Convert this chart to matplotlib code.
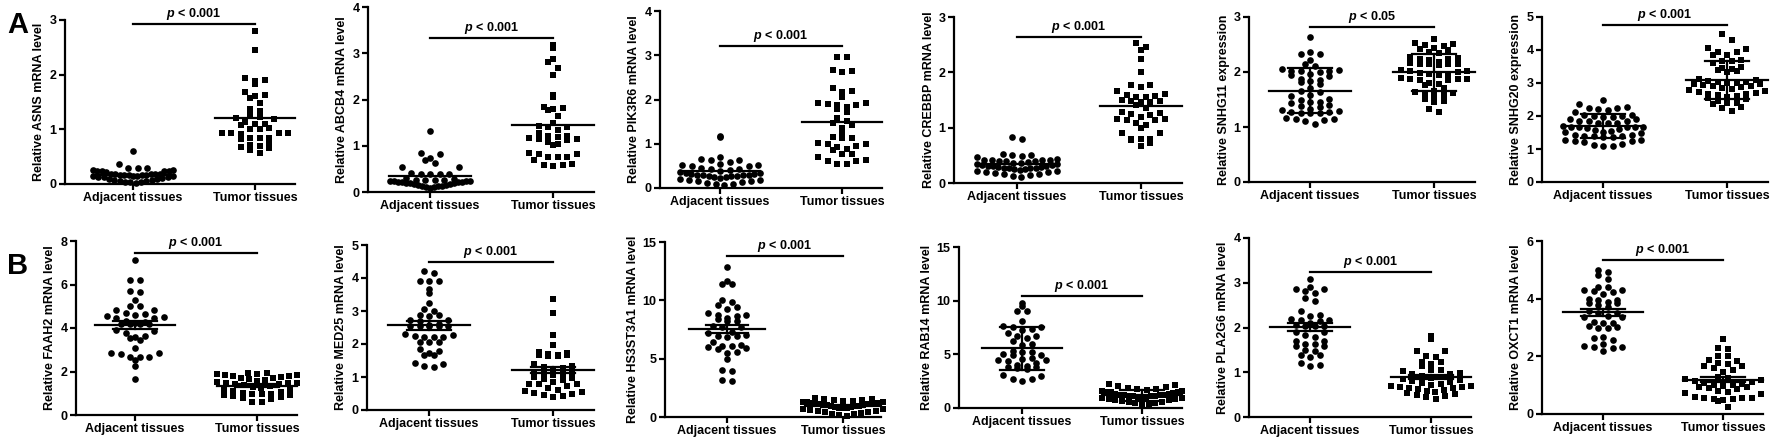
import numpy as np
import matplotlib
matplotlib.use('Agg')
import matplotlib.pyplot as plt

plt.rcParams['font.family'] = ['Liberation Sans', 'DejaVu Sans']
plt.rcParams['font.weight'] = 'bold'
plt.rcParams['mathtext.fontset'] = 'custom'
plt.rcParams['mathtext.it'] = 'Liberation Sans:italic:bold'
plt.rcParams['mathtext.rm'] = 'Liberation Sans:bold'
plt.rcParams['mathtext.bf'] = 'Liberation Sans:bold'

categories = ['Adjacent tissues', 'Tumor tissues']

# ---------------- data ----------------
asns_adjacent = [0.61, 0.37, 0.30, 0.29, 0.29, 0.26, 0.26, 0.24, 0.23, 0.23, 0.23, 0.22, 0.19, 0.19,
                 0.18, 0.18, 0.18, 0.17, 0.17, 0.17, 0.16, 0.16, 0.15, 0.15, 0.14, 0.14, 0.13, 0.12,
                 0.12, 0.11, 0.10, 0.09, 0.08, 0.07, 0.06, 0.05, 0.04, 0.03, 0.03, 0.02]
asns_tumor = [2.80, 2.46, 1.93, 1.90, 1.88, 1.83, 1.69, 1.62, 1.61, 1.57, 1.49, 1.37, 1.34, 1.27,
              1.23, 1.20, 1.19, 1.14, 1.09, 1.08, 1.03, 1.01, 1.01, 1.10, 0.93, 0.93, 0.91, 0.93,
              0.93, 0.85, 0.84, 0.85, 0.82, 0.77, 0.70, 0.66, 0.63, 0.68, 0.71, 0.57]

abcb4_adjacent = [1.32, 0.84, 0.83, 0.73, 0.69, 0.63, 0.54, 0.54, 0.42, 0.40, 0.40, 0.40, 0.40, 0.30,
                  0.28, 0.27, 0.26, 0.25, 0.25, 0.24, 0.24, 0.23, 0.23, 0.22, 0.22, 0.21, 0.21, 0.20,
                  0.20, 0.19, 0.18, 0.17, 0.16, 0.15, 0.14, 0.13, 0.12, 0.11, 0.10, 0.09]
abcb4_tumor = [3.18, 3.12, 2.87, 2.81, 2.69, 2.54, 2.10, 2.05, 1.84, 1.79, 1.77, 1.81, 1.64, 1.50,
               1.42, 1.41, 1.40, 1.34, 1.28, 1.21, 1.19, 1.21, 1.16, 1.15, 1.14, 1.12, 1.08, 1.03,
               1.01, 0.85, 0.83, 0.82, 0.76, 0.76, 0.76, 0.70, 0.60, 0.59, 0.58, 0.56]

pik3r6_adjacent = [1.18, 1.15, 0.70, 0.65, 0.64, 0.63, 0.59, 0.55, 0.53, 0.51, 0.50, 0.49, 0.45, 0.44,
                   0.42, 0.40, 0.38, 0.36, 0.35, 0.33, 0.32, 0.31, 0.30, 0.30, 0.30, 0.29, 0.28, 0.27,
                   0.26, 0.25, 0.24, 0.22, 0.20, 0.19, 0.18, 0.16, 0.15, 0.13, 0.12, 0.10, 0.08, 0.06]
pik3r6_tumor = [2.97, 2.97, 2.66, 2.63, 2.64, 2.25, 2.16, 2.20, 2.05, 1.91, 1.87, 1.83, 1.89, 1.92,
                1.79, 1.71, 1.87, 1.58, 1.46, 1.43, 1.52, 1.36, 1.15, 1.14, 1.14, 1.21, 1.02, 1.00,
                0.93, 0.94, 0.89, 1.00, 0.85, 0.76, 0.64, 0.60, 0.55, 0.55, 0.60, 0.70, 0.76]

crebbp_adjacent = [0.83, 0.79, 0.53, 0.51, 0.50, 0.48, 0.47, 0.43, 0.42, 0.42, 0.41, 0.41, 0.40, 0.40,
                   0.39, 0.38, 0.37, 0.36, 0.35, 0.34, 0.33, 0.32, 0.31, 0.30, 0.30, 0.29, 0.29, 0.28,
                   0.28, 0.27, 0.27, 0.26, 0.25, 0.24, 0.22, 0.21, 0.20, 0.19, 0.18, 0.17, 0.16, 0.14,
                   0.12, 0.10]
crebbp_tumor = [2.53, 2.45, 2.41, 2.24, 2.00, 1.77, 1.73, 1.77, 1.67, 1.61, 1.57, 1.56, 1.56, 1.59,
                1.50, 1.49, 1.47, 1.47, 1.49, 1.41, 1.35, 1.29, 1.24, 1.20, 1.23, 1.26, 1.15, 1.14,
                1.15, 1.13, 1.09, 1.05, 1.00, 0.91, 0.90, 0.80, 0.77, 0.80, 0.80, 0.73, 0.67]

snhg11_adjacent = [2.64, 2.36, 2.32, 2.32, 2.21, 2.14, 2.10, 2.06, 2.03, 2.02, 2.02, 2.01, 2.00, 1.97,
                   1.95, 1.93, 1.88, 1.85, 1.83, 1.81, 1.78, 1.70, 1.66, 1.63, 1.58, 1.56, 1.50, 1.49,
                   1.46, 1.45, 1.43, 1.40, 1.38, 1.36, 1.33, 1.30, 1.29, 1.28, 1.27, 1.26, 1.25, 1.25,
                   1.16, 1.15, 1.15, 1.12, 1.10, 1.06]
snhg11_tumor = [2.60, 2.53, 2.50, 2.49, 2.47, 2.44, 2.41, 2.40, 2.36, 2.34, 2.28, 2.25, 2.24, 2.23,
                2.21, 2.18, 2.16, 2.15, 2.15, 2.15, 2.14, 2.13, 2.03, 2.02, 2.01, 2.00, 1.99, 1.97,
                1.96, 1.94, 1.89, 1.88, 1.87, 1.87, 1.86, 1.85, 1.80, 1.79, 1.77, 1.70, 1.66, 1.64,
                1.62, 1.60, 1.58, 1.56, 1.51, 1.47, 1.45, 1.32, 1.27]

snhg20_adjacent = [2.47, 2.35, 2.27, 2.25, 2.25, 2.22, 2.17, 2.13, 2.02, 2.02, 2.00, 2.00, 1.98, 1.97,
                   1.92, 1.90, 1.86, 1.85, 1.84, 1.80, 1.79, 1.78, 1.69, 1.68, 1.68, 1.67, 1.67, 1.66,
                   1.65, 1.60, 1.58, 1.55, 1.52, 1.50, 1.48, 1.42, 1.41, 1.40, 1.40, 1.38, 1.37, 1.35,
                   1.28, 1.26, 1.25, 1.24, 1.22, 1.15, 1.12, 1.10, 1.08]
snhg20_tumor = [4.47, 4.30, 4.05, 4.03, 3.95, 3.93, 3.86, 3.84, 3.70, 3.66, 3.66, 3.62, 3.47, 3.45,
                3.43, 3.40, 3.35, 3.32, 3.12, 3.10, 3.05, 3.04, 3.02, 3.00, 3.00, 2.98, 2.97, 2.95,
                2.92, 2.90, 2.88, 2.85, 2.82, 2.78, 2.75, 2.72, 2.70, 2.68, 2.68, 2.65, 2.62, 2.58,
                2.55, 2.50, 2.45, 2.40, 2.38, 2.35, 2.28, 2.25, 2.15]

faah2_adjacent = [7.14, 6.19, 6.22, 5.70, 5.66, 5.28, 5.00, 5.00, 4.82, 4.85, 4.66, 4.69, 4.59, 4.51,
                  4.46, 4.48, 4.54, 4.33, 4.28, 4.20, 4.17, 4.17, 4.23, 4.20, 3.87, 3.90, 3.75, 3.62,
                  3.59, 3.52, 3.47, 3.09, 2.86, 2.80, 2.83, 2.68, 2.68, 2.68, 2.55, 2.26, 1.65]
faah2_tumor = [1.95, 1.92, 1.90, 1.88, 1.85, 1.82, 1.80, 1.78, 1.75, 1.72, 1.70, 1.66, 1.62, 1.58,
               1.52, 1.48, 1.46, 1.45, 1.44, 1.42, 1.38, 1.35, 1.30, 1.25, 1.20, 1.15, 1.10, 1.05,
               1.00, 0.98, 0.97, 0.95, 0.92, 0.90, 0.88, 0.85, 0.80, 0.75, 0.62, 0.60]

med25_adjacent = [4.21, 4.16, 3.91, 3.91, 3.92, 3.66, 3.54, 3.25, 3.05, 3.00, 2.88, 2.85, 2.88, 2.73,
                  2.73, 2.70, 2.60, 2.55, 2.55, 2.55, 2.55, 2.55, 2.58, 2.30, 2.24, 2.20, 2.20, 2.27,
                  2.22, 2.05, 2.05, 2.07, 1.80, 1.84, 1.67, 1.67, 1.72, 1.38, 1.34, 1.43, 1.29]
med25_tumor = [3.35, 2.95, 2.27, 1.97, 1.75, 1.73, 1.70, 1.68, 1.67, 1.66, 1.65, 1.64, 1.38, 1.33,
               1.30, 1.28, 1.25, 1.15, 1.12, 1.10, 1.08, 1.05, 1.00, 0.98, 0.95, 0.90, 0.85, 0.80,
               0.80, 0.78, 0.72, 0.66, 0.62, 0.58, 0.55, 0.52, 0.48, 0.45, 0.42, 0.40]

hs3st3a1_adjacent = [12.9, 11.7, 11.4, 11.4, 10.0, 9.9, 9.6, 9.45, 9.3, 8.95, 8.7, 8.75, 8.75, 8.5,
                     8.4, 8.2, 8.2, 7.8, 7.75, 7.7, 7.3, 7.2, 7.0, 6.95, 6.9, 6.95, 6.2, 6.1, 5.95,
                     6.1, 6.0, 6.45, 5.8, 5.6, 5.45, 5.0, 3.95, 4.05, 3.05, 3.15]
hs3st3a1_tumor = [1.62, 1.58, 1.55, 1.50, 1.45, 1.40, 1.35, 1.30, 1.28, 1.25, 1.22, 1.20, 1.18, 1.15,
                  1.12, 1.10, 1.08, 1.05, 1.02, 1.00, 0.98, 0.95, 0.92, 0.90, 0.85, 0.80, 0.78, 0.75,
                  0.70, 0.65, 0.60, 0.55, 0.50, 0.45, 0.40, 0.35, 0.30, 0.25, 0.18, 0.10]

rab14_adjacent = [9.8, 9.5, 9.0, 9.05, 8.1, 7.65, 7.55, 7.55, 7.35, 7.3, 7.0, 6.75, 6.7, 6.5, 6.25,
                  5.9, 5.95, 5.2, 5.05, 5.2, 5.3, 4.9, 4.9, 4.55, 4.5, 4.5, 4.65, 4.35, 4.2, 3.95,
                  4.0, 3.8, 3.75, 3.8, 3.6, 3.05, 2.95, 2.7, 2.7, 2.55]
rab14_tumor = [2.25, 2.15, 2.05, 2.00, 1.90, 1.80, 1.75, 1.70, 1.60, 1.55, 1.50, 1.48, 1.45, 1.40,
               1.35, 1.30, 1.25, 1.22, 1.20, 1.18, 1.15, 1.12, 1.10, 1.08, 1.05, 1.02, 1.00, 0.95,
               0.90, 0.85, 0.80, 0.75, 0.70, 0.65, 0.60, 0.55, 0.50, 0.45, 0.40, 0.30]

pla2g6_adjacent = [3.08, 2.90, 2.85, 2.81, 2.85, 2.77, 2.66, 2.60, 2.36, 2.29, 2.25, 2.18, 2.16, 2.15,
                   2.16, 2.09, 2.06, 2.04, 2.04, 2.04, 1.91, 1.91, 1.79, 1.84, 1.69, 1.69, 1.64, 1.64,
                   1.58, 1.58, 1.47, 1.49, 1.39, 1.39, 1.34, 1.21, 1.15, 1.17]
pla2g6_tumor = [1.82, 1.74, 1.48, 1.48, 1.36, 1.34, 1.24, 1.24, 1.19, 1.13, 1.06, 1.04, 1.02, 0.98,
                0.95, 0.95, 0.92, 0.90, 0.88, 0.85, 0.82, 0.80, 0.78, 0.76, 0.74, 0.72, 0.70, 0.70,
                0.68, 0.66, 0.65, 0.64, 0.62, 0.60, 0.58, 0.56, 0.54, 0.52, 0.50, 0.48, 0.45, 0.40]

oxct1_adjacent = [5.00, 4.93, 4.82, 4.67, 4.39, 4.39, 4.30, 4.30, 4.26, 4.24, 4.16, 3.99, 3.95, 3.95,
                  3.90, 3.86, 3.84, 3.78, 3.70, 3.58, 3.51, 3.51, 3.40, 3.38, 3.38, 3.20, 3.15, 3.17,
                  3.05, 3.03, 2.97, 2.97, 2.68, 2.63, 2.55, 2.36, 2.32, 2.28, 2.34, 2.43, 2.17]
oxct1_tumor = [2.60, 2.30, 2.25, 2.02, 2.02, 1.88, 1.85, 1.76, 1.74, 1.65, 1.65, 1.61, 1.53, 1.47,
               1.30, 1.25, 1.21, 1.19, 1.15, 1.10, 1.07, 1.05, 1.02, 1.00, 0.98, 0.95, 0.92, 0.90,
               0.85, 0.80, 0.76, 0.72, 0.70, 0.60, 0.56, 0.55, 0.55, 0.52, 0.52, 0.50, 0.44, 0.24]

y_labels = ['Relative ASNS mRNA level', 'Relative ABCB4 mRNA level', 'Relative PIK3R6 mRNA level',
            'Relative CREBBP mRNA level', 'Relative SNHG11 expression', 'Relative SNHG20 expression',
            'Relative FAAH2 mRNA level', 'Relative MED25 mRNA level', 'Relative HS3ST3A1 mRNA level',
            'Relative RAB14 mRNA level', 'Relative PLA2G6 mRNA level', 'Relative OXCT1 mRNA level']
y_ticks = [[0, 1, 2, 3], [0, 1, 2, 3, 4], [0, 1, 2, 3, 4], [0, 1, 2, 3], [0, 1, 2, 3],
           [0, 1, 2, 3, 4, 5], [0, 2, 4, 6, 8], [0, 1, 2, 3, 4, 5], [0, 5, 10, 15],
           [0, 5, 10, 15], [0, 1, 2, 3, 4], [0, 2, 4, 6]]
p_labels = ['< 0.001', '< 0.001', '< 0.001', '< 0.001', '< 0.05', '< 0.001',
            '< 0.001', '< 0.001', '< 0.001', '< 0.001', '< 0.001', '< 0.001']
sig_heights = [2.93, 3.33, 3.21, 2.64, 2.81, 4.75, 7.46, 4.47, 13.78, 10.4, 3.24, 5.33]
error_kind = ['none', 'none', 'none', 'none', 'sd', 'sd', 'sem', 'sem', 'sem', 'sd', 'sem', 'sem']

groups = [(asns_adjacent, asns_tumor), (abcb4_adjacent, abcb4_tumor),
          (pik3r6_adjacent, pik3r6_tumor), (crebbp_adjacent, crebbp_tumor),
          (snhg11_adjacent, snhg11_tumor), (snhg20_adjacent, snhg20_tumor),
          (faah2_adjacent, faah2_tumor), (med25_adjacent, med25_tumor),
          (hs3st3a1_adjacent, hs3st3a1_tumor), (rab14_adjacent, rab14_tumor),
          (pla2g6_adjacent, pla2g6_tumor), (oxct1_adjacent, oxct1_tumor)]

# ---------------- layout (pixels): y-axis x, first tick x, second tick x, top, bottom ----------
layout = [(65, 133, 255, 20, 184), (368, 430, 553, 7, 192), (660, 720, 842, 11, 188),
          (954, 1017, 1141, 17, 183), (1249, 1310, 1434, 17, 182), (1542, 1603, 1727, 17, 182),
          (76, 135, 257, 241, 415), (367, 429, 553, 245, 410), (665, 727, 843, 242, 417),
          (959, 1022, 1142, 247, 408), (1249, 1310, 1431, 238, 417), (1542, 1603, 1723, 241, 414)]

W, H = 1772, 441
fig = plt.figure(figsize=(W / 100, H / 100), dpi=100)

FS = 9
MS = 4.8


def swarm_offsets(ax, center, values, row_px=7.0, step_px=9.5, half_px=40.0):
    vals = np.asarray(values, float)
    pts = np.column_stack([np.full_like(vals, center), vals])
    ypx = ax.transData.transform(pts)[:, 1]
    sx = ax.transData.transform([(1, 0)])[0, 0] - ax.transData.transform([(0, 0)])[0, 0]
    bins = np.floor((ypx - ypx.min()) / row_px).astype(int)
    order = np.argsort(vals, kind='stable')
    xs = np.full_like(vals, center)
    for b in np.unique(bins):
        idx = [j for j in order if bins[j] == b]
        n = len(idx)
        if n % 2:
            slots = [0.0]
            k = 1
            while len(slots) < n:
                slots += [k, -k]
                k += 1
        else:
            slots = []
            k = 0.5
            while len(slots) < n:
                slots += [k, -k]
                k += 1
        slots = slots[:n]
        step = step_px if n < 2 else min(step_px, 2 * half_px / (n - 1))
        for j, sl in zip(idx, slots):
            xs[j] = center + sl * step / sx
    return xs


for i, (adj, tum) in enumerate(groups):
    L, A, T, top, bot = layout[i]
    s = T - A
    x0 = 1 - (A - L) / s
    x1 = 2.33
    ax = fig.add_axes([L / W, 1 - bot / H, (x1 - x0) * s / W, (bot - top) / H])
    ymax = y_ticks[i][-1]
    ax.set_xlim(x0, x1)
    ax.set_ylim(0, ymax)

    for c, vals, mk in [(1, adj, 'o'), (2, tum, 's')]:
        xs = swarm_offsets(ax, c, vals)
        ax.plot(xs, vals, linestyle='none', marker=mk, markersize=MS, color='black',
                markeredgewidth=0, clip_on=False, zorder=2)
        v = np.asarray(vals, float)
        m = v.mean()
        ax.plot([c - 0.33, c + 0.33], [m, m], color='black', lw=1.6, zorder=3, clip_on=False)
        if error_kind[i] != 'none':
            e = v.std(ddof=1)
            if error_kind[i] == 'sem':
                e = e / np.sqrt(len(v))
            ax.plot([c, c], [m - e, m + e], color='black', lw=1.6, zorder=3)
            for yy in (m - e, m + e):
                ax.plot([c - 0.18, c + 0.18], [yy, yy], color='black', lw=1.6, zorder=3)

    yb = sig_heights[i]
    ax.plot([1, 2], [yb, yb], color='black', lw=1.6, clip_on=False)
    ax.annotate(r'$p$ ' + p_labels[i], xy=(1.5, yb), xytext=(0, 1.5), textcoords='offset points',
                ha='center', va='bottom', fontsize=FS, fontweight='bold')

    for sp in ['top', 'right']:
        ax.spines[sp].set_visible(False)
    for sp in ['left', 'bottom']:
        ax.spines[sp].set_linewidth(1.6)
    ax.set_yticks(y_ticks[i])
    ax.set_xticks([1, 2])
    ax.set_xticklabels(categories)
    ax.tick_params(axis='both', direction='out', length=4, width=1.6, labelsize=FS, pad=2)
    for lab in ax.get_xticklabels() + ax.get_yticklabels():
        lab.set_fontweight('bold')
    ax.set_ylabel(y_labels[i], fontsize=FS, fontweight='bold', labelpad=3)

fig.text(7 / W, 1 - 33 / H, 'A', fontsize=21, fontweight='bold', ha='left', va='baseline')
fig.text(7 / W, 1 - 274 / H, 'B', fontsize=21, fontweight='bold', ha='left', va='baseline')

fig.savefig('out.png', dpi=100, facecolor='white')
